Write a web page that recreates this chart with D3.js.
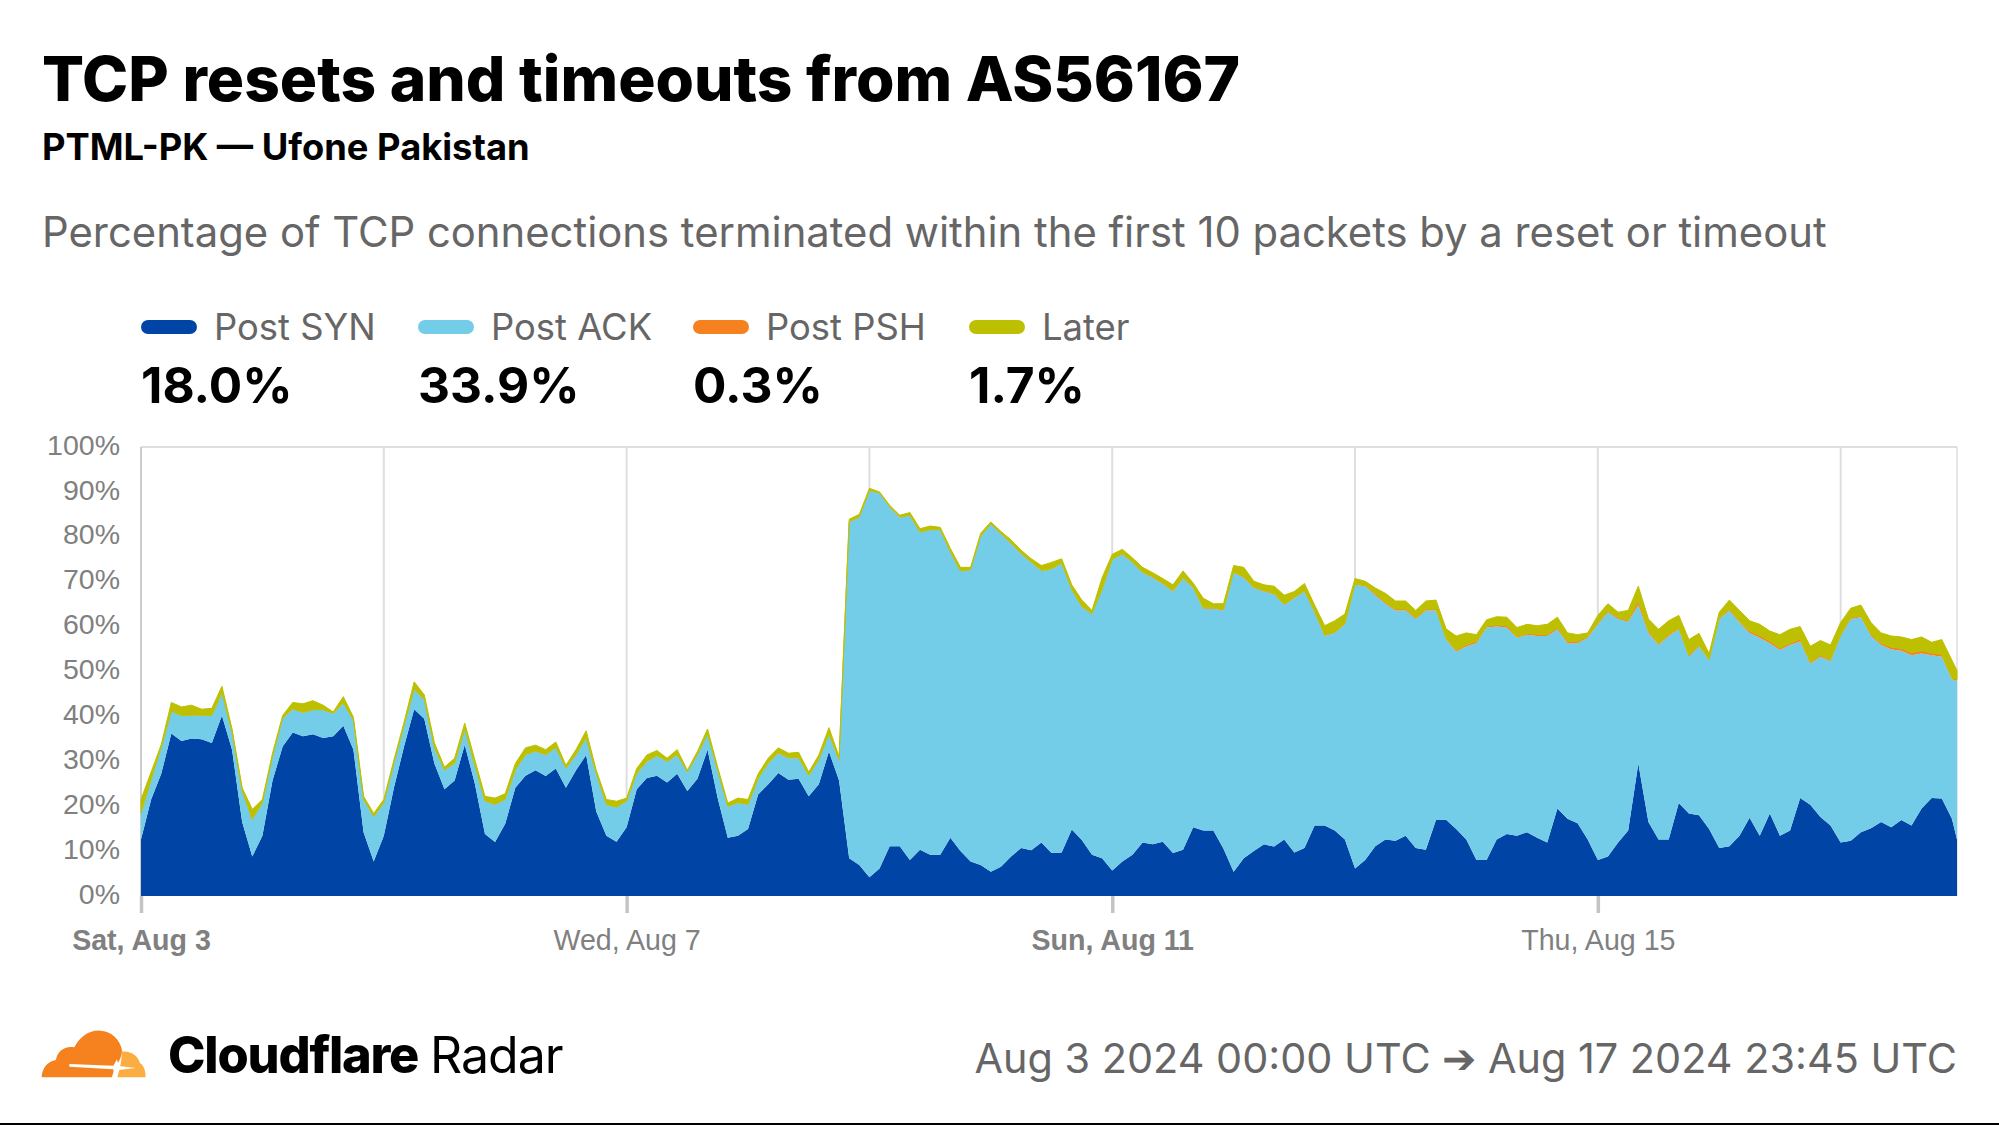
<!DOCTYPE html>
<html><head><meta charset="utf-8">
<script src="https://cdn.jsdelivr.net/npm/d3@7/dist/d3.min.js"></script>
<style>html,body{margin:0;padding:0;background:#fff}svg{display:block}</style>
</head><body><svg id="c" width="1999" height="1125"></svg>
<script>
const seriesNames = ["Post SYN","Post ACK","Post PSH","Later"];
const seriesColors = ["#0045A6","#73CDE8","#F6821F","#BDC000"];
const summaryValues = ["18.0%","33.9%","0.3%","1.7%"];
const yTickValues = [0,10,20,30,40,50,60,70,80,90,100];
const xLabelDates = ["2024-08-03","2024-08-07","2024-08-11","2024-08-15"];
const xLabelTexts = ["Sat, Aug 3","Wed, Aug 7","Sun, Aug 11","Thu, Aug 15"];
const xLabelBold = [true,false,true,false];
const gridDates = ["2024-08-05","2024-08-07","2024-08-09","2024-08-11","2024-08-13","2024-08-15","2024-08-17"];
const hoursFromStart = [0,2,4,6,8,10,12,14,16,18,20,22,24,26,28,30,32,34,36,38,40,42,44,46,48,50,52,54,56,58,60,62,64,66,68,70,72,74,76,78,80,82,84,86,88,90,92,94,96,98,100,102,104,106,108,110,112,114,116,118,120,122,124,126,128,130,132,134,136,138,140,142,144,146,148,150,152,154,156,158,160,162,164,166,168,170,172,174,176,178,180,182,184,186,188,190,192,194,196,198,200,202,204,206,208,210,212,214,216,218,220,222,224,226,228,230,232,234,236,238,240,242,244,246,248,250,252,254,256,258,260,262,264,266,268,270,272,274,276,278,280,282,284,286,288,290,292,294,296,298,300,302,304,306,308,310,312,314,316,318,320,322,324,326,328,330,332,334,336,338,340,342,344,346,348,350,352,354,356,358,359];
const postSyn = [12.6,21.5,27.2,36.2,34.5,35.1,34.9,34.1,40.2,32.6,
16.5,8.8,13.4,25.7,33.3,36.4,35.6,36,35.2,35.6,
37.9,32.6,14.2,7.7,13.4,24.1,33.3,41.6,39.5,29.5,
23.8,25.7,33.7,25,13.8,12,16.1,24.1,26.8,28,
26.7,28.4,24.1,28,31.4,18.8,13.4,12.1,15.3,23.8,
26.3,26.8,25.3,27.2,23.4,26.1,32.6,21.8,13,13.4,
14.9,22.6,24.9,27.4,25.9,26.1,22.2,24.9,32.2,25.7,
8.4,6.9,4.2,6.1,11.1,11.1,8,10.3,9.2,9.2,
13,10,7.7,6.9,5.4,6.5,8.8,10.7,10.2,11.9,
9.6,9.7,14.8,12.5,9.2,8.4,5.7,7.7,9.2,11.9,
11.5,12.1,9.6,10.3,15.3,14.6,14.6,10.5,5.4,8.4,
10,11.5,11,12.6,9.7,10.7,15.7,15.7,14.6,12.6,
6.1,8,11.1,12.6,12.3,13.4,10.7,10.3,16.9,17,
14.9,12.6,8,8,12.6,13.8,13.4,14.2,13,11.9,
19.5,17.2,16.2,12.6,8,8.8,11.9,14.6,29.5,16.5,
12.6,12.6,20.7,18.4,18,14.9,10.7,11.1,13.4,17.4,
13.4,18.4,13.4,14.6,21.8,20.3,17.6,15.7,11.9,12.3,
14.2,15.1,16.5,15.3,16.9,15.7,19.5,21.8,21.7,17.2,
12.6];
const postAck = [5.8,4.3,5.8,4.9,5.6,5.1,5.3,6,5,3.8,
6.9,8.2,7.3,5.3,6.2,5.2,5.2,5.4,6.2,5,
5,6.5,7.3,9.9,7.3,5.4,4.6,4.4,4.2,3.5,
4.2,3.8,3.5,4.1,7.3,8.3,5.4,3.9,4.6,4.2,
4.7,4.6,4.3,3.4,3.8,8.4,6.9,7.6,5.8,3.4,
3.6,4.4,4.6,4.2,4.2,5.3,3.4,6.2,6.9,7.3,
5.4,3.5,4.6,4.4,4.8,4.6,4.6,5.4,3.8,4.6,
74.9,77.4,86,83.6,75.5,73.2,76.7,70.7,72.3,72.3,
63.6,62.3,64.9,73.2,77.4,74.1,69.7,65.5,64.1,60.5,
63.2,64.4,53.4,51.9,53.6,59.8,69.2,68.4,65.1,60.1,
59.4,57.4,58.2,60.4,53.3,49.4,49.4,53.1,66.6,62.5,
58.6,56.3,56.2,52.2,56.6,57.1,47.5,42.2,44,47.9,
63.2,61,55.9,52.5,51.3,50.2,51,53.3,46.7,40.1,
39.5,43,48.3,51.8,47.4,46,44.1,44,44.9,46,
39.9,39.1,40.1,44.9,52.5,54.4,49.8,46.5,35.3,42.1,
43.3,45.3,38.7,34.9,37.6,37.6,51,52.5,47.5,41.2,
44.1,37.9,41.4,41.3,34.9,31.4,35.7,36.6,46,49.4,
47.9,42.8,39.4,39.6,37.7,37.9,34.5,31.8,31.6,31.1,
35.3];
const postPsh = [.1,.1,.1,.1,.1,.1,.1,.1,.1,.1,
.1,.1,.1,.1,.1,.1,.1,.1,.1,.1,
.1,.1,.1,.1,.1,.1,.1,.1,.1,.1,
.1,.1,.1,.1,.1,.1,.1,.1,.1,.1,
.1,.1,.1,.1,.1,.1,.1,.1,.1,.1,
.1,.1,.1,.1,.1,.1,.1,.1,.1,.1,
.1,.1,.1,.1,.1,.1,.1,.1,.1,.1,
.1,.1,.1,.1,.1,.1,.1,.1,.1,.1,
.1,.1,.1,.1,.1,.1,.1,.1,.1,.1,
.1,.1,.1,.1,.1,.1,.1,.1,.1,.1,
.2,.2,.2,.2,.2,.2,.2,.2,.2,.2,
.2,.2,.2,.2,.2,.2,.2,.2,.2,.2,
.2,.2,.3,.3,.3,.3,.3,.3,.3,.3,
.3,.4,.4,.3,.4,.4,.3,.3,.4,.4,
.4,.4,.4,.3,.3,.3,.3,.3,1,.4,
.3,.3,.3,.3,.3,.2,.2,.3,.3,.4,
.5,.5,.4,.4,.5,.3,.3,.3,.3,.3,
.3,.4,.4,.5,.5,.6,.6,.5,.5,.3,
.3];
const later = [3,1.7,.6,1.9,1.9,2.2,1.3,1.6,1.4,.7,
.6,2.2,.7,.7,.6,1.4,1.9,2,1,.3,
1.4,.6,.6,.7,.7,.7,.7,1.6,1,1,
.6,1.1,1.2,1.1,1,1.4,1.2,1.4,1.5,1.3,
1.1,1.2,.6,1.1,1.5,.7,1.1,1.3,.6,1.1,
1.4,1.1,.7,1.1,.3,.7,1.1,.6,.7,1,
1.1,1,1.1,1.1,1,1.2,.7,1,1.4,.6,
.5,.6,.5,.2,.3,.4,.6,.7,.8,.5,
.7,.8,.5,.6,.4,.5,.7,.7,.7,1.1,
1.4,.9,1,1.4,.7,2.6,1.1,1,.9,1.1,
.9,1,1.3,1.5,.9,2.1,.9,1.3,1.4,2.1,
1.3,1.3,1.6,2,1.3,1.6,1.4,2.1,2.5,2.1,
1.2,.9,1.3,2,1.8,1.8,1.6,1.8,2,2.1,
3.2,2.6,1.5,1.4,1.8,1.9,2,2,1.9,2.2,
2.3,1.9,1.5,.8,1.7,1.6,1.2,2.2,3.2,2.7,
3.2,3.1,2.8,3.5,2.6,1.3,1.3,2,2.4,2.3,
2.5,2.2,3,3.1,2.8,3.6,3.3,3.3,2.7,2.1,
2.4,2.6,2.3,2.5,2.6,2.9,3.1,2.4,3.3,3.9,
2];

const svg = d3.select("#c");
const UI = "Inter, 'Noto Sans', sans-serif", AX = "'Liberation Sans', Arial, sans-serif";
const start = Date.UTC(2024,7,3);
const times = hoursFromStart.map(h => new Date(start + h*3600e3));
const rows = times.map((t,i)=>({t, "Post SYN":postSyn[i], "Post ACK":postAck[i], "Post PSH":postPsh[i], "Later":later[i]}));
const L=141,R=1957,T=447,B=896;
const x = d3.scaleUtc().domain([times[0], times[times.length-1]]).range([L,R]);
const y = d3.scaleLinear().domain([0,100]).range([B,T]);
const color = d3.scaleOrdinal().domain(seriesNames).range(seriesColors);

function txt(s,px,py,size,weight,fill,fam,anchor,ls){
  return svg.append("text").attr("x",px).attr("y",py).attr("font-size",size).attr("font-weight",weight)
    .attr("fill",fill).attr("font-family",fam).attr("text-anchor",anchor||"start")
    .attr("letter-spacing",ls||0).text(s);
}
txt("TCP resets and timeouts from AS56167",42,101,62.2,800,"#000",UI);
txt("PTML-PK — Ufone Pakistan",42,160,36.3,700,"#000",UI);
txt("Percentage of TCP connections terminated within the first 10 packets by a reset or timeout",42,247,41.8,400,"#666",UI);

// legend
const legendX = [141,418,693,969];
seriesNames.forEach((n,i)=>{
  svg.append("rect").attr("x",legendX[i]).attr("y",320).attr("width",56).attr("height",14).attr("rx",7).attr("fill",color(n));
  txt(n,legendX[i]+73,340,36.4,400,"#666",UI);
  txt(summaryValues[i],legendX[i],403,49.6,700,"#000",UI);
});

// grid
const parse = d3.utcParse("%Y-%m-%d");
const g = svg.append("g");
g.selectAll("line.g").data(gridDates.map(parse)).join("line").attr("class","g")
  .attr("x1",d=>x(d)).attr("x2",d=>x(d)).attr("y1",T).attr("y2",B).attr("stroke","#dedede").attr("stroke-width",2);
g.append("line").attr("x1",L).attr("x2",R).attr("y1",T).attr("y2",T).attr("stroke","#dedede").attr("stroke-width",2);
g.append("line").attr("x1",R).attr("x2",R).attr("y1",T).attr("y2",B).attr("stroke","#dedede").attr("stroke-width",1.5);
g.append("line").attr("x1",L).attr("x2",L).attr("y1",T).attr("y2",B).attr("stroke","#ccc").attr("stroke-width",2);

// stacked areas
const stack = d3.stack().keys(seriesNames);
const area = d3.area().x(d=>x(d.data.t)).y0(d=>y(d[0])).y1(d=>y(d[1])).curve(d3.curveLinear);
svg.append("g").selectAll("path").data(stack(rows)).join("path")
  .attr("d",area).attr("fill",d=>color(d.key))
  .attr("stroke",d=>d.key==="Later"?color(d.key):"none").attr("stroke-width",1);

// y axis
const ya = d3.axisLeft(y).tickValues(yTickValues).tickFormat(d=>d+"%").tickSize(0).tickPadding(0);
const yg = svg.append("g").attr("transform",`translate(120,-2)`).call(ya);
yg.select(".domain").remove();
yg.selectAll("text").attr("font-family",AX).attr("font-size",28.5).attr("fill","#808080").attr("dy","0.32em");

// x axis
const xa = d3.axisBottom(x).tickValues(xLabelDates.map(parse))
  .tickFormat((d,i)=>xLabelTexts[i]).tickSize(17).tickPadding(17);
const xg = svg.append("g").attr("transform",`translate(0,${B})`).call(xa);
xg.select(".domain").remove();
xg.selectAll("line").attr("stroke","#c4c4c4").attr("stroke-width",3.5);
xg.selectAll("text").attr("font-family",AX).attr("font-size",28.6).attr("fill","#808080")
  .attr("font-weight",(d,i)=>xLabelBold[i]?700:400);

// footer
const logo = svg.append("g").attr("transform","translate(30,1020) scale(0.3333)");
logo.append("path").attr("fill","#F6821F").attr("d","M35 172 C36 145 52 124 78 120 C80 95 105 76 133 82 C150 50 178 30 210 32 C245 34 270 58 276 90 C276 110 266 128 256 140 C252 150 250 160 245 172 Z");
logo.append("path").attr("fill","#FBAD41").attr("d","M262 172 C268 150 276 125 275 95 C305 92 325 110 330 130 C340 135 347 150 347 172 Z");
logo.append("path").attr("fill","#fff").attr("d","M118 132 L250 137 L261 118 L266 138 L318 144 L266 150 L255 176 L250 148 L118 140 Z");
txt("Cloudflare",168,1073,50.5,800,"#000",UI,"start",-1.2);
txt("Radar",430,1073,50,400,"#000",UI,"start",-1);
txt("Aug 3 2024 00:00 UTC ➔ Aug 17 2024 23:45 UTC",1957,1073,41.4,400,"#666",UI,"end");
svg.append("rect").attr("x",0).attr("y",1123).attr("width",1999).attr("height",2).attr("fill","#000");
</script></body></html>
